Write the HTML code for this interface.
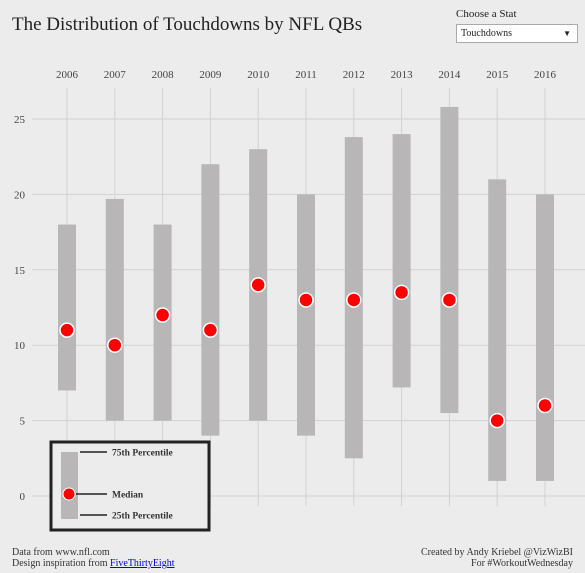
<!DOCTYPE html>
<html><head><meta charset="utf-8"><style>
body{margin:0;background:#ececec;font-family:"Liberation Serif",serif;}
#wrap{position:relative;width:585px;height:573px;overflow:hidden;background:#ececec;}
</style></head><body>
<div id="wrap">
<svg id="chart" width="585" height="573" style="position:absolute;left:0;top:0"></svg>
<div style="position:absolute;left:12px;top:14px;font-size:19px;color:#222;">The Distribution of Touchdowns by NFL QBs</div>
<div style="position:absolute;left:456px;top:8px;font-size:11px;color:#222;">Choose a Stat</div>
<div style="position:absolute;left:456px;top:24px;width:116px;height:17px;border:1px solid #aaa;background:#fff;font-size:10px;line-height:17px;padding-left:4px;color:#222;box-sizing:content-box;">Touchdowns<span style="position:absolute;right:6px;top:0;font-size:8px">▼</span></div>
<div style="position:absolute;left:12px;top:547px;font-size:10px;color:#333;line-height:11px;">Data from www.nfl.com<br>Design inspiration from <a href="#" style="color:#00e">FiveThirtyEight</a></div>
<div style="position:absolute;right:12px;top:547px;font-size:10px;color:#333;line-height:11px;text-align:right;">Created by Andy Kriebel @VizWizBI<br>For #WorkoutWednesday</div>
</div>
<script>
const years=["2006","2007","2008","2009","2010","2011","2012","2013","2014","2015","2016"];
const p25=[7,5,5,4,5,4,2.5,7.2,5.5,1,1];
const p75=[18,19.7,18,22,23,20,23.8,24,25.8,21,20];
const medians=[11,10,12,11,14,13,13,13.5,13,5,6];
const yTicks=[0,5,10,15,20,25];
const NS="http://www.w3.org/2000/svg";
const svg=document.getElementById('chart');
const x=i=>67+i*47.8;
const y=v=>496-v*15.08;
function mk(t,a,p){const e=document.createElementNS(NS,t);for(const k in a)e.setAttribute(k,a[k]);(p||svg).appendChild(e);return e;}
yTicks.forEach(v=>{
 const l=mk('line',{x1:32,x2:585,y1:y(v),y2:y(v),stroke:'#d2d2d2','stroke-width':1});
 
 
 const t=mk('text',{x:25,y:y(v)+4,'text-anchor':'end','font-size':11,fill:'#444','font-family':'Liberation Serif, serif'});
 t.textContent=v;
 
 
});
years.forEach((yr,i)=>{
 const g=mk('line',{x1:x(i),x2:x(i),y1:88,y2:506,stroke:'#d2d2d2','stroke-width':1});
 
 
 const t=mk('text',{x:x(i),y:78,'text-anchor':'middle','font-size':11,fill:'#444','font-family':'Liberation Serif, serif'});
 t.textContent=yr;
 
 
});
years.forEach((yr,i)=>{
 const r=mk('rect',{x:x(i)-9,y:y(p75[i]),width:18,height:y(p25[i])-y(p75[i]),fill:'#b8b6b6'});
 
 
 const c=mk('circle',{cx:x(i),cy:y(medians[i]),r:7,fill:'#ff0000',stroke:'#fff','stroke-width':1.5});
 
 
});
const lg=mk('g',{});


mk('rect',{x:51,y:442,width:158,height:88,fill:'#ececec',stroke:'#222','stroke-width':3},lg);
mk('rect',{x:61,y:452,width:17,height:67,fill:'#b8b6b6'},lg);
mk('circle',{cx:69,cy:494,r:6,fill:'#ff0000',stroke:'#fff','stroke-width':1},lg);
[[452,'75th Percentile',80],[494,'Median',76],[515,'25th Percentile',80]].forEach(([yy,lab,x1])=>{
 mk('line',{x1:x1,x2:107,y1:yy,y2:yy,stroke:'#222','stroke-width':1.5},lg);
 const t=mk('text',{x:112,y:yy+3.5,'font-size':9.5,'font-weight':'bold',fill:'#333','font-family':'Liberation Serif, serif'},lg);
 t.textContent=lab;
 
 
});
</script>
</body></html>
